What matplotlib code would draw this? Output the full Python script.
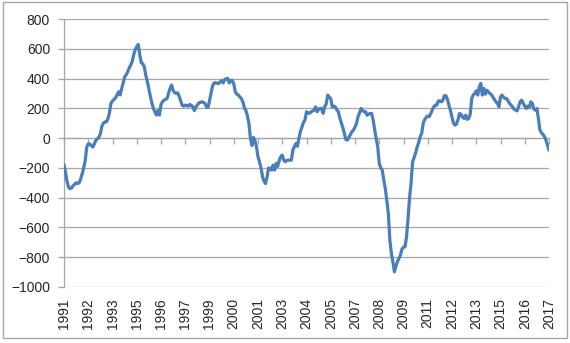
import matplotlib
matplotlib.use('Agg')
import matplotlib.pyplot as plt
import numpy as np
from matplotlib.patches import Rectangle

plt.rcParams['font.family'] = ['Liberation Sans', 'DejaVu Sans']

# Monthly values, Jan 1991 .. Sep 2017
values = [
    # 1991
    -180, -230, -290, -330, -340, -335, -320, -310, -300, -305, -300, -275,
    # 1992
    -240, -200, -150, -60, -38, -40, -50, -60, -40, -15, -5, 5,
    # 1993
    30, 80, 100, 108, 110, 130, 170, 235, 250, 260, 270, 290,
    # 1994
    311, 290, 330, 370, 410, 425, 445, 470, 490, 515, 560, 595,
    # 1995
    615, 629, 560, 505, 500, 478, 420, 380, 330, 280, 235, 200,
    # 1996
    175, 155, 185, 155, 225, 245, 255, 260, 266, 300, 335, 356,
    # 1997
    320, 305, 300, 304, 280, 250, 220, 215, 222, 218, 215, 226,
    # 1998
    220, 210, 185, 210, 222, 237, 240, 244, 240, 233, 210, 206,
    # 1999
    250, 300, 350, 370, 372, 368, 367, 378, 385, 370, 394, 398,
    # 2000
    401, 370, 385, 389, 365, 311, 295, 289, 277, 265, 244, 205,
    # 2001
    185, 150, 99, 0, -50, 5, -15, -60, -125, -160, -200, -260,
    # 2002
    -290, -305, -260, -200, -205, -215, -181, -215, -170, -190, -150, -125,
    # 2003
    -114, -148, -159, -150, -148, -148, -148, -80, -58, -36, -55, 0,
    # 2004
    45, 76, 105, 121, 177, 170, 166, 177, 182, 188, 210, 177,
    # 2005
    195, 199, 199, 166, 210, 230, 289, 275, 266, 210, 215, 210,
    # 2006
    190, 177, 135, 100, 70, 30, -10, -13, 5, 25, 43, 54,
    # 2007
    75, 99, 144, 170, 199, 185, 177, 177, 154, 160, 166, 166,
    # 2008
    121, 54, -2, -60, -170, -200, -215, -282, -340, -420, -506, -685,
    # 2009
    -774, -831, -898, -860, -830, -808, -785, -745, -733, -730, -663, -540,
    # 2010
    -400, -300, -160, -130, -100, -60, -30, 10, 31, 99, 125, 140,
    # 2011
    148, 144, 165, 190, 210, 222, 222, 250, 250, 244, 255, 285,
    # 2012
    285, 260, 220, 185, 140, 100, 87, 95, 125, 165, 160, 140,
    # 2013
    132, 154, 126, 132, 160, 266, 290, 300, 318, 289, 344, 367,
    # 2014
    289, 334, 295, 322, 310, 300, 292, 275, 260, 244, 233, 210,
    # 2015
    277, 289, 275, 266, 266, 250, 233, 220, 210, 193, 188, 183,
    # 2016
    215, 245, 255, 233, 215, 199, 215, 206, 244, 233, 195, 188,
    # 2017
    199, 132, 54, 36, 25, 10, -13, -47, -81,
]

tick_labels = ['1991', '1992', '1993', '1995', '1996', '1997', '1999', '2000',
               '2001', '2003', '2004', '2005', '2007', '2008', '2009', '2011',
               '2012', '2013', '2015', '2016', '2017']
label_every = 16  # months between category labels

x = np.arange(len(values))
ticks = x[::label_every]

W, H = 570, 343
fig = plt.figure(figsize=(W / 100, H / 100), dpi=100)
ax = fig.add_axes([64 / W, 1 - 287 / H, 485 / W, 268 / H])

grid_c = '#a6a6a6'
text_c = '#262626'

ax.plot(x, values, color='#4a7ebb', lw=2.3, solid_joinstyle='round',
        solid_capstyle='round', zorder=3)
ax.set_xlim(0, len(values) - 1)
ax.set_ylim(-1000, 800)
ax.set_yticks(np.arange(-1000, 801, 200))
ax.yaxis.grid(True, color=grid_c, lw=0.9)
ax.set_axisbelow(True)
for s in ['top', 'right']:
    ax.spines[s].set_visible(False)
ax.spines['left'].set_color(grid_c)
ax.spines['left'].set_linewidth(0.9)
ax.spines['bottom'].set_position(('data', 0))
ax.spines['bottom'].set_color(grid_c)
ax.spines['bottom'].set_linewidth(0.9)
ax.set_xticks(ticks)
ax.tick_params(axis='x', direction='out', length=4, width=0.9, color=grid_c,
               labelbottom=False)
ax.tick_params(axis='y', direction='out', length=4, width=0.9, color=grid_c,
               labelsize=10, labelcolor=text_c, pad=6)

ax2 = ax.twiny()
ax2.set_xlim(ax.get_xlim())
ax2.xaxis.set_ticks_position('bottom')
ax2.set_xticks(ticks)
ax2.set_xticklabels(tick_labels, rotation=90)
ax2.tick_params(length=0, pad=8, labelsize=10, labelcolor=text_c)
for s in ax2.spines.values():
    s.set_visible(False)

fig.patches.append(Rectangle((3 / W, 5 / H), 564 / W, 336 / H,
                             transform=fig.transFigure, fill=False,
                             edgecolor=grid_c, lw=1))

fig.savefig('out.png', dpi=100)
